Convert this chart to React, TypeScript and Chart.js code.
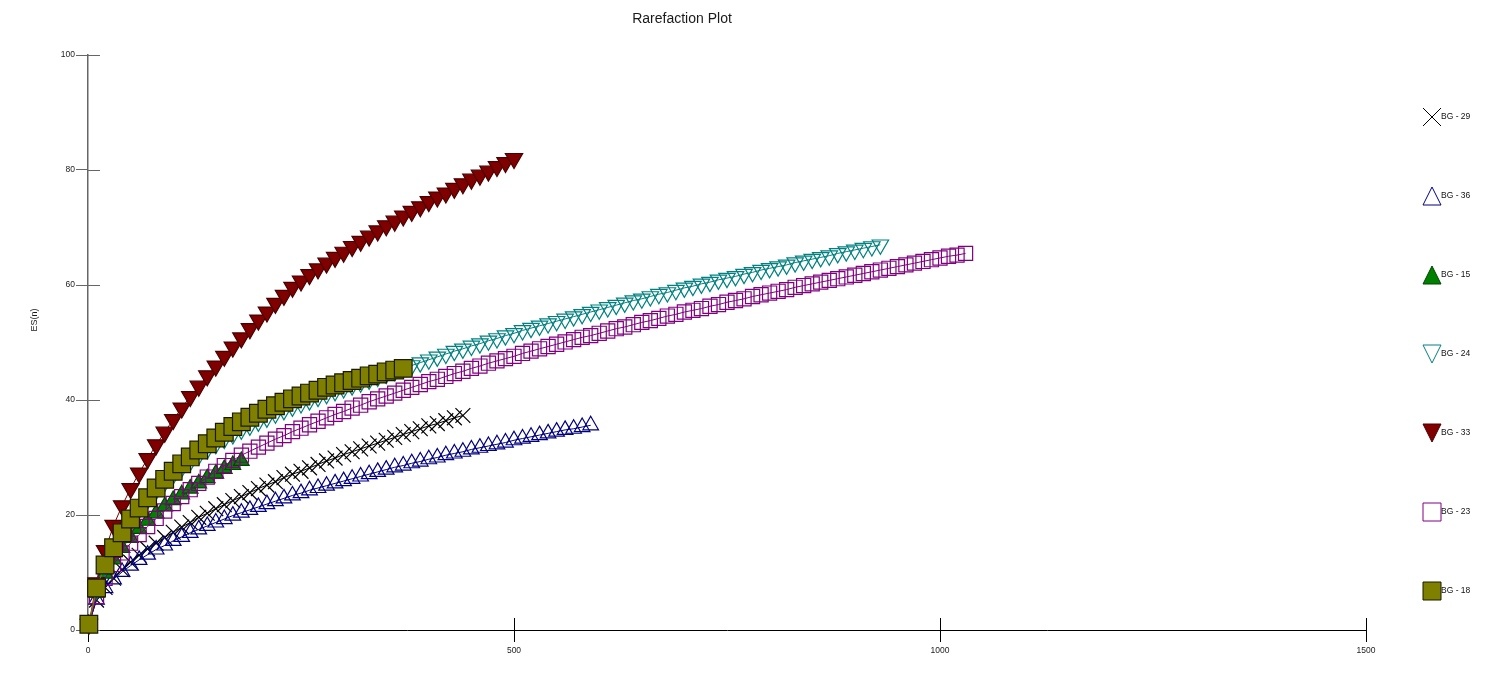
import React, { useEffect, useRef } from "react";
import { Chart, registerables } from "chart.js";

Chart.register(...registerables);

// ---- data -----------------------------------------------------------------
const chartTitle = "Rarefaction Plot";
const yAxisTitle = "ES(n)";
const xTicks = [0, 500, 1000, 1500];
const yTicks = [0, 20, 40, 60, 80, 100];

// sample sizes n (shared x values for every curve)
const sampleSizes = [
  1, 10, 20, 30, 40, 50, 60, 70, 80, 90,
  100, 110, 120, 130, 140, 150, 160, 170, 180, 190,
  200, 210, 220, 230, 240, 250, 260, 270, 280, 290,
  300, 310, 320, 330, 340, 350, 360, 370, 380, 390,
  400, 410, 420, 430, 440, 450, 460, 470, 480, 490,
  500, 510, 520, 530, 540, 550, 560, 570, 580, 590,
  600, 610, 620, 630, 640, 650, 660, 670, 680, 690,
  700, 710, 720, 730, 740, 750, 760, 770, 780, 790,
  800, 810, 820, 830, 840, 850, 860, 870, 880, 890,
  900, 910, 920, 930, 940, 950, 960, 970, 980, 990,
  1000, 1010, 1020, 1030,
];

const seriesNames = ["BG - 29", "BG - 36", "BG - 15", "BG - 24", "BG - 33", "BG - 23", "BG - 18"];

const esBG29 = [
  1.0, 5.2, 7.4, 9.0, 10.5, 11.8, 13.0, 14.1, 15.1, 16.1,
  17.0, 17.9, 18.7, 19.6, 20.3, 21.1, 21.8, 22.5, 23.2, 23.9,
  24.6, 25.2, 25.8, 26.5, 27.1, 27.6, 28.2, 28.8, 29.4, 29.9,
  30.5, 31.0, 31.5, 32.0, 32.5, 33.0, 33.5, 34.0, 34.5, 35.0,
  35.5, 35.9, 36.4, 36.9, 37.3,
];
const esBG36 = [
  1.0, 5.3, 7.3, 8.8, 10.1, 11.2, 12.2, 13.1, 14.0, 14.7,
  15.5, 16.2, 16.9, 17.5, 18.1, 18.7, 19.3, 19.9, 20.4, 20.9,
  21.4, 21.9, 22.4, 22.9, 23.4, 23.8, 24.3, 24.7, 25.1, 25.5,
  25.9, 26.3, 26.7, 27.1, 27.5, 27.9, 28.3, 28.6, 29.0, 29.3,
  29.7, 30.0, 30.4, 30.7, 31.0, 31.4, 31.7, 32.0, 32.3, 32.6,
  33.0, 33.3, 33.6, 33.9, 34.2, 34.5, 34.8, 35.0, 35.3, 35.6,
];
const esBG15 = [
  1.0, 6.5, 9.8, 12.3, 14.3, 16.0, 17.6, 19.0, 20.3, 21.5,
  22.6, 23.6, 24.6, 25.5, 26.4, 27.2, 28.0, 28.7, 29.4,
];
const esBG24 = [
  1.0, 7.0, 11.0, 14.0, 16.7, 19.0, 21.0, 22.7, 24.3, 25.7,
  27.0, 28.2, 29.3, 30.4, 31.4, 32.3, 33.2, 34.0, 34.8, 35.5,
  36.2, 36.9, 37.6, 38.2, 38.8, 39.4, 39.9, 40.5, 41.0, 41.5,
  42.0, 42.5, 43.0, 43.5, 44.0, 44.5, 45.0, 45.5, 46.0, 46.5,
  47.0, 47.5, 48.0, 48.5, 48.9, 49.4, 49.8, 50.3, 50.7, 51.2,
  51.6, 52.1, 52.5, 52.9, 53.3, 53.7, 54.1, 54.5, 54.9, 55.3,
  55.7, 56.1, 56.5, 56.9, 57.3, 57.6, 58.0, 58.4, 58.7, 59.1,
  59.5, 59.8, 60.2, 60.5, 60.9, 61.2, 61.5, 61.9, 62.2, 62.6,
  62.9, 63.2, 63.5, 63.9, 64.2, 64.5, 64.8, 65.1, 65.5, 65.8,
  66.1, 66.4, 66.7, 67.0,
];
const esBG33 = [
  1.0, 8.2, 13.8, 18.2, 21.6, 24.6, 27.3, 29.8, 32.2, 34.4,
  36.6, 38.6, 40.6, 42.4, 44.2, 45.9, 47.6, 49.2, 50.8, 52.4,
  53.9, 55.3, 56.8, 58.2, 59.6, 60.7, 61.8, 62.8, 63.8, 64.8,
  65.7, 66.7, 67.6, 68.5, 69.4, 70.3, 71.1, 72.0, 72.8, 73.6,
  74.5, 75.3, 76.0, 76.8, 77.6, 78.4, 79.1, 79.8, 80.6, 81.3,
  82.0,
];
const esBG23 = [
  1.0, 5.8, 9.0, 11.4, 13.4, 15.1, 16.6, 18.0, 19.4, 20.7,
  22.0, 23.2, 24.4, 25.5, 26.6, 27.6, 28.6, 29.5, 30.4, 31.1,
  31.8, 32.5, 33.2, 33.8, 34.5, 35.1, 35.7, 36.3, 36.9, 37.5,
  38.0, 38.6, 39.1, 39.7, 40.2, 40.7, 41.2, 41.7, 42.2, 42.7,
  43.2, 43.6, 44.1, 44.6, 45.0, 45.5, 45.9, 46.4, 46.8, 47.2,
  47.6, 48.1, 48.5, 48.9, 49.3, 49.7, 50.1, 50.5, 50.9, 51.2,
  51.6, 52.0, 52.4, 52.7, 53.1, 53.5, 53.8, 54.2, 54.6, 54.9,
  55.3, 55.6, 55.9, 56.3, 56.6, 57.0, 57.3, 57.6, 58.0, 58.3,
  58.6, 58.9, 59.2, 59.6, 59.9, 60.2, 60.5, 60.8, 61.1, 61.4,
  61.7, 62.0, 62.3, 62.6, 62.9, 63.2, 63.5, 63.8, 64.1, 64.4,
  64.7, 65.0, 65.2, 65.5,
];
const esBG18 = [
  1.0, 7.3, 11.3, 14.3, 16.9, 19.3, 21.2, 23.0, 24.7, 26.2,
  27.6, 28.9, 30.1, 31.3, 32.4, 33.4, 34.4, 35.4, 36.2, 37.0,
  37.7, 38.4, 39.0, 39.6, 40.2, 40.7, 41.2, 41.7, 42.2, 42.6,
  43.0, 43.4, 43.8, 44.2, 44.5, 44.9, 45.2, 45.5,
];

const seriesValues = [esBG29, esBG36, esBG15, esBG24, esBG33, esBG23, esBG18];

// ---- styles -----------------------------------------------------------------
const FONT = "'Liberation Sans', Arial, Helvetica, sans-serif";
const CLEAR = "rgba(0,0,0,0)";

type Sty = { shape: string; radius: number; border: string; fill: string; line: string; rotation: number };
const seriesStyles: Sty[] = [
  { shape: "crossRot", radius: 10.5, border: "#000000", fill: CLEAR, line: "#000000", rotation: 0 },
  { shape: "triangle", radius: 9, border: "#000080", fill: CLEAR, line: "#000080", rotation: 0 },
  { shape: "triangle", radius: 9, border: "#004400", fill: "#008000", line: "#008000", rotation: 0 },
  { shape: "triangle", radius: 9.5, border: "#008080", fill: CLEAR, line: "#008080", rotation: 180 },
  { shape: "triangle", radius: 10, border: "#4a0000", fill: "#800000", line: "#800000", rotation: 180 },
  { shape: "rect", radius: 10, border: "#800080", fill: CLEAR, line: "#800080", rotation: 0 },
  { shape: "rect", radius: 12.5, border: "#1a1a00", fill: "#808000", line: "#808000", rotation: 0 },
];

function drawLegendMarker(ctx: CanvasRenderingContext2D, s: Sty, x: number, y: number) {
  const h = 9;
  ctx.save();
  ctx.lineWidth = 1;
  ctx.strokeStyle = s.border;
  ctx.fillStyle = s.fill;
  ctx.beginPath();
  if (s.shape === "crossRot") {
    ctx.moveTo(x - h, y - h);
    ctx.lineTo(x + h, y + h);
    ctx.moveTo(x + h, y - h);
    ctx.lineTo(x - h, y + h);
    ctx.stroke();
  } else if (s.shape === "triangle") {
    if (s.rotation === 180) {
      ctx.moveTo(x - h, y - h);
      ctx.lineTo(x + h, y - h);
      ctx.lineTo(x, y + h);
    } else {
      ctx.moveTo(x, y - h);
      ctx.lineTo(x + h, y + h);
      ctx.lineTo(x - h, y + h);
    }
    ctx.closePath();
    ctx.fill();
    ctx.stroke();
  } else {
    ctx.rect(x - h, y - h, 2 * h, 2 * h);
    ctx.fill();
    ctx.stroke();
  }
  ctx.restore();
}

const decorPlugin = {
  id: "decor",
  beforeDatasetsDraw(chart: any) {
    const { ctx, chartArea, scales } = chart;
    ctx.save();
    // inner half of the crossing tick marks
    ctx.lineWidth = 1;
    ctx.strokeStyle = "#666666";
    for (const t of scales.y.ticks) {
      const py = Math.round(scales.y.getPixelForValue(t.value)) + 0.5;
      ctx.beginPath();
      ctx.moveTo(chartArea.left, py);
      ctx.lineTo(chartArea.left + 12, py);
      ctx.stroke();
    }
    ctx.strokeStyle = "#000000";
    for (const t of scales.x.ticks) {
      const px = Math.round(scales.x.getPixelForValue(t.value)) + 0.5;
      ctx.beginPath();
      ctx.moveTo(px, chartArea.bottom);
      ctx.lineTo(px, chartArea.bottom - 12);
      ctx.stroke();
    }
    ctx.restore();
  },
  afterDraw(chart: any) {
    const { ctx, chartArea } = chart;
    ctx.save();
    // title
    ctx.fillStyle = "#1a1a1a";
    ctx.font = `14px ${FONT}`;
    ctx.textAlign = "center";
    ctx.textBaseline = "middle";
    ctx.fillText(chartTitle, chartArea.left + 594, 11);
    // y axis title
    ctx.save();
    ctx.translate(27, 312);
    ctx.rotate(-Math.PI / 2);
    ctx.font = `9px ${FONT}`;
    ctx.fillText(yAxisTitle, 0, 0);
    ctx.restore();
    // legend
    const lx = chartArea.right + 66;
    seriesNames.forEach((name, i) => {
      const ly = chartArea.top + 62 + i * 79;
      drawLegendMarker(ctx, seriesStyles[i], lx, ly);
      ctx.fillStyle = "#111111";
      ctx.font = `8.5px ${FONT}`;
      ctx.textAlign = "left";
      ctx.textBaseline = "middle";
      ctx.fillText(name, lx + 9, ly);
    });
    ctx.restore();
  },
};

export default function App() {
  const canvasRef = useRef<HTMLCanvasElement | null>(null);

  useEffect(() => {
    if (!canvasRef.current) return;
    const datasets = seriesNames.map((name, i) => {
      const s = seriesStyles[i];
      const vals = seriesValues[i];
      return {
        label: name,
        data: vals.map((v, k) => ({ x: sampleSizes[k], y: v })),
        showLine: true,
        borderColor: s.line,
        borderWidth: 1,
        backgroundColor: s.fill,
        pointStyle: s.shape,
        pointRadius: s.radius,
        pointRotation: s.rotation,
        pointBorderColor: s.border,
        pointBackgroundColor: s.fill,
        pointBorderWidth: 1.2,
        tension: 0,
        clip: false,
        order: seriesNames.length - i,
      };
    });

    const chart = new Chart(canvasRef.current, {
      type: "scatter",
      data: { datasets },
      options: {
        animation: false,
        responsive: false,
        devicePixelRatio: 1,
        layout: { padding: { top: 47, right: 114, left: 0, bottom: 0 } },
        plugins: {
          legend: { display: false },
          title: { display: false },
          tooltip: { enabled: false },
        },
        scales: {
          x: {
            type: "linear",
            min: 0,
            max: 1500,
            afterBuildTicks: (s: any) => {
              s.ticks = xTicks.map((v) => ({ value: v }));
            },
            afterFit: (s: any) => {
              s.height = 45;
            },
            border: { display: true, color: "#000000", width: 1 },
            grid: { display: true, drawOnChartArea: false, drawTicks: true, tickLength: 12, color: "#000000" },
            ticks: {
              font: { size: 8.5, family: FONT },
              color: "#222222",
              padding: 4,
              maxRotation: 0,
              callback: (v: any) => String(v),
            },
          },
          y: {
            type: "linear",
            min: 0,
            max: 100,
            afterBuildTicks: (s: any) => {
              s.ticks = yTicks.map((v) => ({ value: v }));
            },
            afterFit: (s: any) => {
              s.width = 80;
            },
            border: { display: true, color: "#666666", width: 1.5 },
            grid: { display: true, drawOnChartArea: false, drawTicks: true, tickLength: 12, color: "#666666" },
            ticks: { font: { size: 8.5, family: FONT }, color: "#222222", padding: 1, callback: (v: any) => String(v) },
          },
        },
      },
      plugins: [decorPlugin],
    } as any);
    return () => chart.destroy();
  }, []);

  return (
    <div style={{ width: 1472, height: 667 }}>
      <canvas ref={canvasRef} width={1472} height={667} style={{ display: "block", width: 1472, height: 667 }} />
    </div>
  );
}
